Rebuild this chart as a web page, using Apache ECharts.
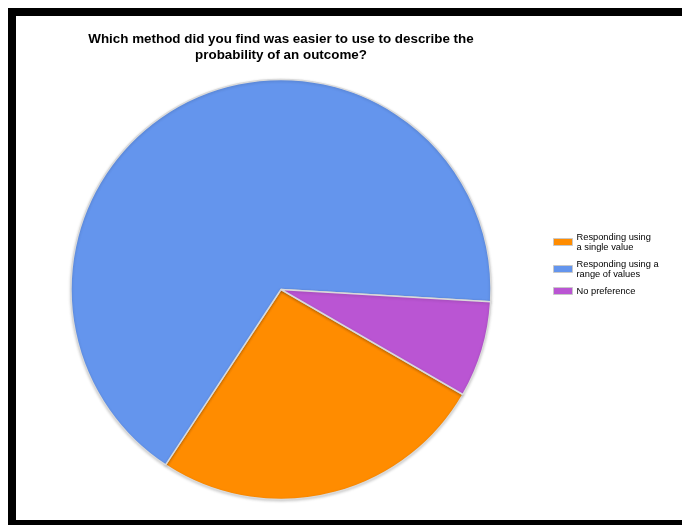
<!DOCTYPE html>
<html>
<head>
<meta charset="utf-8">
<script src="https://cdn.jsdelivr.net/npm/echarts@6/dist/echarts.min.js"></script>
<style>
  html, body { margin: 0; padding: 0; background: #fff; }
  #chart { width: 682px; height: 525px; }
</style>
</head>
<body>
<div id="chart"></div>
<script>
// Survey responses: preferred way of describing an outcome's probability
const categories = ['Responding using a single value', 'Responding using a range of values', 'No preference'];
const counts = [7, 18, 2];
const legendLabels = ['Responding using\na single value', 'Responding using a\nrange of values', 'No preference'];
const colors = ['#FF8C00', '#6495ED', '#BA55D3'];

const chart = echarts.init(document.getElementById('chart'), null, { renderer: 'canvas' });

const labelLookup = {};
categories.forEach((c, i) => { labelLookup[c] = legendLabels[i]; });

chart.setOption({
  animation: false,
  backgroundColor: '#ffffff',
  title: {
    text: 'Which method did you find was easier to use to describe the\nprobability of an outcome?',
    left: 276,
    top: 26,
    textAlign: 'center',
    textStyle: {
      fontFamily: 'Liberation Sans, Arial, sans-serif',
      fontSize: 13.4,
      fontWeight: 'bold',
      color: '#000',
      lineHeight: 16
    }
  },
  legend: {
    orient: 'vertical',
    left: 548,
    top: 227,
    itemWidth: 19,
    itemHeight: 7,
    itemGap: 7,
    icon: 'rect',
    selectedMode: false,
    formatter: name => labelLookup[name],
    itemStyle: { borderColor: '#c8c8c8', borderWidth: 1 },
    textStyle: {
      fontFamily: 'Liberation Sans, Arial, sans-serif',
      fontSize: 9.3,
      lineHeight: 10,
      color: '#000',
      padding: [0, 0, 0, -1]
    }
  },
  graphic: [{
    type: 'rect',
    shape: { x: 12, y: 12, width: 720, height: 512 },
    style: { fill: 'none', stroke: '#000', lineWidth: 8 },
    silent: true,
    z: 100
  }],
  series: [{
    type: 'pie',
    center: [281, 289.5],
    radius: 210,
    startAngle: -30,
    clockwise: true,
    label: { show: false },
    labelLine: { show: false },
    emphasis: { disabled: true },
    itemStyle: {
      borderColor: '#dadada',
      borderWidth: 1.5,
      shadowColor: 'rgba(0,0,0,0.18)',
      shadowBlur: 3,
      shadowOffsetY: 1
    },
    data: categories.map((c, i) => ({
      name: c,
      value: counts[i],
      itemStyle: { color: colors[i] }
    }))
  }]
});
</script>
</body>
</html>
